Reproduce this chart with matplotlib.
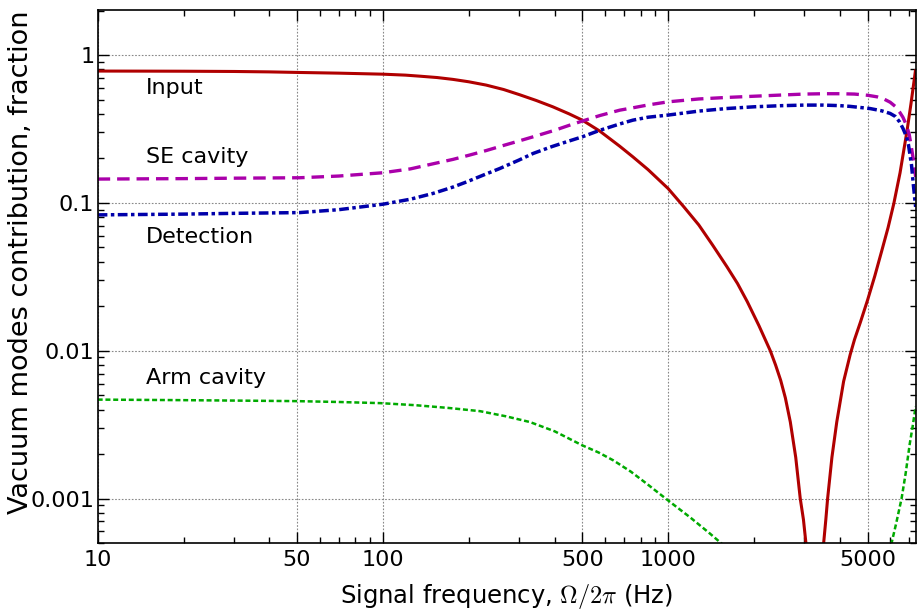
import matplotlib
matplotlib.use("Agg")
import matplotlib.pyplot as plt
from matplotlib.ticker import FixedLocator, FixedFormatter, NullFormatter

plt.rcParams['font.family'] = ['DejaVu Sans']
plt.rcParams['mathtext.fontset'] = 'cm'
plt.rcParams['lines.scale_dashes'] = False

# ---- data ----
input_f = [10, 15, 20, 30, 40, 51, 70, 100, 120, 135, 155, 176, 200, 230, 265, 301,
           345, 394, 450, 500, 576, 676, 752, 850, 1000, 1130, 1280, 1430, 1607,
           1750, 1893, 2080, 2280, 2380, 2480, 2575, 2680, 2800, 2904, 2980, 3040,
           3120, 3200, 3270, 3330, 3400, 3460, 3508, 3570, 3622, 3750, 3900, 4121,
           4345, 4500, 4720, 5000, 5300, 5600, 5900, 6180, 6500, 6880, 7100, 7370]
input_v = [0.780, 0.779, 0.778, 0.775, 0.770, 0.763, 0.755, 0.743, 0.732, 0.720,
           0.705, 0.685, 0.660, 0.627, 0.585, 0.540, 0.493, 0.447, 0.400, 0.363,
           0.306, 0.242, 0.205, 0.168, 0.125, 0.095, 0.071, 0.052, 0.037, 0.0285,
           0.0215, 0.0148, 0.0100, 0.0080, 0.0063, 0.0048, 0.0033, 0.0019, 0.0010,
           0.00072, 0.00050, 0.00028, 0.00010, 0.00001, 0.00005, 0.00022, 0.00037,
           0.00050, 0.00072, 0.0010, 0.0019, 0.0033, 0.0062, 0.0094, 0.0119, 0.0156,
           0.022, 0.032, 0.047, 0.068, 0.099, 0.16, 0.31, 0.47, 0.80]

se_f = [10, 20, 30, 51, 70, 100, 125, 150, 176, 200, 230, 265, 301, 336, 400, 450,
        500, 576, 676, 752, 850, 1000, 1280, 1600, 2000, 2500, 3000, 3500, 4000,
        4500, 5000, 5400, 5700, 6000, 6250, 6470, 6650, 6850, 7000, 7150, 7270, 7370]
se_v = [0.145, 0.146, 0.147, 0.148, 0.152, 0.160, 0.170, 0.184, 0.197, 0.210, 0.226,
        0.245, 0.263, 0.280, 0.310, 0.335, 0.358, 0.390, 0.424, 0.440, 0.460, 0.483,
        0.505, 0.517, 0.527, 0.537, 0.545, 0.548, 0.548, 0.545, 0.535, 0.522, 0.505,
        0.480, 0.450, 0.413, 0.380, 0.335, 0.290, 0.227, 0.185, 0.150]

det_f = [10, 20, 30, 51, 70, 100, 125, 150, 176, 197, 230, 257, 300, 336, 390, 440,
         500, 576, 676, 752, 850, 1000, 1280, 1600, 2000, 2500, 3000, 3500, 4000,
         4335, 5100, 5600, 6000, 6250, 6470, 6650, 6850, 6950, 7030, 7130, 7230,
         7300, 7370]
det_v = [0.083, 0.084, 0.085, 0.086, 0.090, 0.098, 0.106, 0.116, 0.128, 0.139, 0.157,
         0.171, 0.195, 0.216, 0.240, 0.259, 0.280, 0.310, 0.342, 0.363, 0.380, 0.393,
         0.418, 0.435, 0.447, 0.455, 0.459, 0.459, 0.455, 0.450, 0.435, 0.420, 0.403,
         0.385, 0.354, 0.320, 0.280, 0.250, 0.216, 0.180, 0.135, 0.112, 0.094]

arm_f = [10, 20, 30, 50, 70, 98, 130, 170, 219, 270, 328, 400, 500, 570, 643, 740,
         841, 920, 1000, 1200, 1400, 1550, 1650,
         5800, 5950, 6070, 6300, 6580, 6800, 7030, 7200, 7370]
arm_v = [0.00467, 0.00463, 0.00460, 0.00456, 0.00450, 0.00442, 0.00428, 0.00410,
         0.00390, 0.00360, 0.00329, 0.00285, 0.00229, 0.00205, 0.00181, 0.00152,
         0.00126, 0.00110, 0.00097, 0.00074, 0.00058, 0.00049, 0.00044,
         0.00030, 0.00040, 0.00050, 0.00068, 0.00100, 0.00148, 0.00235, 0.00310,
         0.00420]

labels = ["Input", "SE cavity", "Detection", "Arm cavity"]
label_y = [0.6, 0.204, 0.0588, 0.00655]

x_major = [10, 50, 100, 500, 1000, 5000]
x_major_labels = ["10", "50", "100", "500", "1000", "5000"]
y_major = [0.001, 0.01, 0.1, 1]
y_major_labels = ["0.001", "0.01", "0.1", "1"]

# ---- figure ----
fig = plt.figure(figsize=(9.17, 6.12), dpi=100)
ax = fig.add_axes([0.1065, 0.1127, 0.892, 0.871])

ax.plot(input_f, input_v, color='#b00000', lw=2.2, solid_capstyle='butt')
ax.plot(se_f, se_v, color='#aa00aa', lw=2.4, dashes=(9, 5))
ax.plot(det_f, det_v, color='#0000aa', lw=2.5, dashes=(7, 2.5, 2.5, 2.5))
ax.plot(arm_f, arm_v, color='#00aa00', lw=1.8, dashes=(3.6, 2))

ax.set_xscale('log')
ax.set_yscale('log')
ax.set_xlim(10, 7370)
ax.set_ylim(0.0005, 2.02)

minor_x = [v * d for d in (10, 100, 1000) for v in range(2, 10) if v != 5]
minor_x = [m for m in minor_x if m < 7370]
ax.xaxis.set_major_locator(FixedLocator(x_major))
ax.xaxis.set_major_formatter(FixedFormatter(x_major_labels))
ax.xaxis.set_minor_locator(FixedLocator(minor_x))
ax.xaxis.set_minor_formatter(NullFormatter())

minor_y = [v * d for d in (0.0001, 0.001, 0.01, 0.1, 1) for v in range(2, 10)]
ax.yaxis.set_major_locator(FixedLocator(y_major))
ax.yaxis.set_major_formatter(FixedFormatter(y_major_labels))
ax.yaxis.set_minor_locator(FixedLocator(minor_y))
ax.yaxis.set_minor_formatter(NullFormatter())

ax.tick_params(which='both', direction='in', top=True, right=True, width=1.0,
               labelsize=16)
ax.tick_params(which='major', length=8)
ax.tick_params(axis='x', which='major', pad=5)
ax.tick_params(axis='y', which='major', pad=2.5)
ax.tick_params(which='minor', length=4)

ax.grid(True, which='major', color='#888888', linestyle=(0, (1.2, 1.2)), lw=0.8)

for s in ax.spines.values():
    s.set_linewidth(1.2)

for t, yv in zip(labels, label_y):
    ax.text(14.8, yv, t, fontsize=16, ha='left', va='center')

ax.set_xlabel(r"Signal frequency, $\Omega/2\pi$ (Hz)", fontsize=17.5, labelpad=9)
ax.set_ylabel("Vacuum modes contribution, fraction", fontsize=19.5)
ax.yaxis.set_label_coords(-0.078, 0.527)

fig.savefig("out.png", dpi=100)
